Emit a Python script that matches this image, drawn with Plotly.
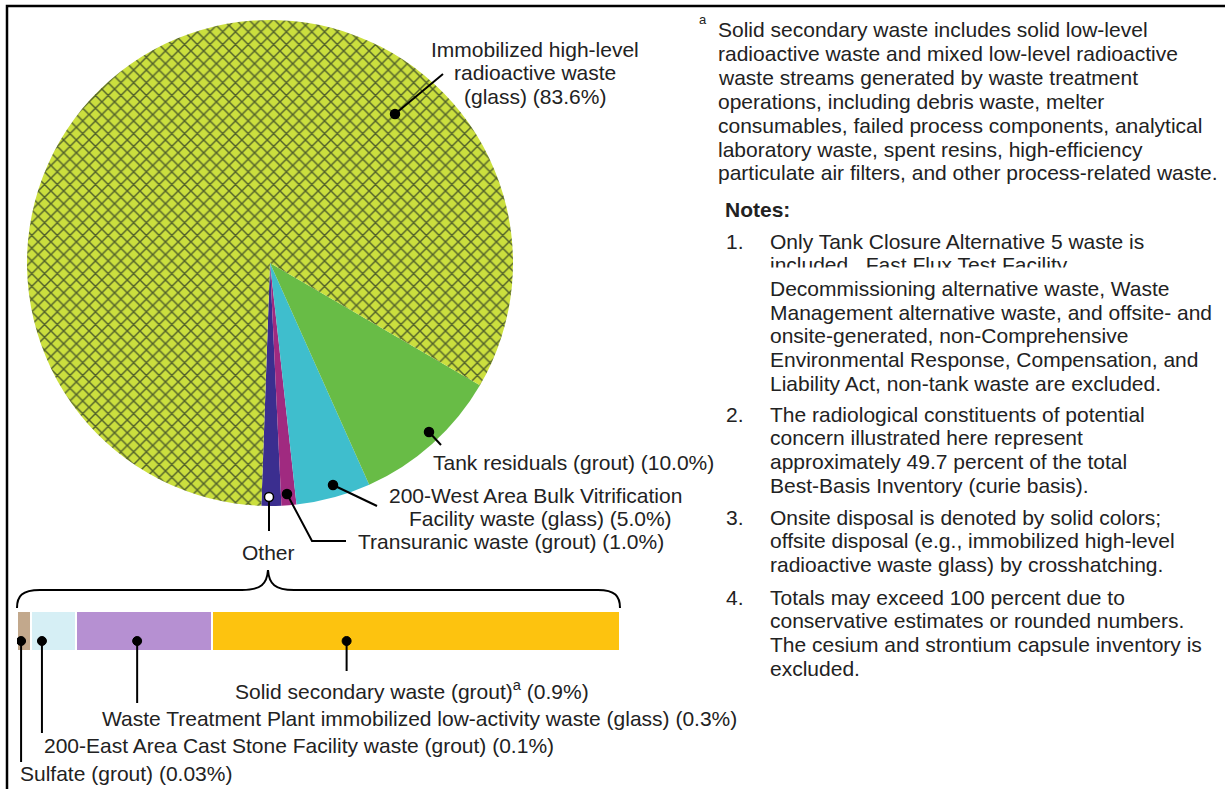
import plotly.graph_objects as go

W, H = 1225, 789

# ---------------- data ----------------
pie_names = [
    "Other",
    "Transuranic waste (grout)",
    "200-West Area Bulk Vitrification Facility waste (glass)",
    "Tank residuals (grout)",
    "Immobilized high-level radioactive waste (glass)",
]
main_values = [1.0, 5.0, 10.0, 83.6]          # TRU, 200-West, tank residuals, HLW glass
other_names = [
    "Sulfate (grout)",
    "200-East Area Cast Stone Facility waste (grout)",
    "Waste Treatment Plant immobilized low-activity waste (glass)",
    "Solid secondary waste (grout)",
]
other_values = [0.03, 0.1, 0.3, 0.9]
pie_values = [round(sum(other_values), 2)] + main_values

pie_colors = ["#3b2e8f", "#a02a80", "#3fbecd", "#68bc46", "#cbdf3e"]
other_colors = ["#c2a88c", "#d6eff5", "#b690d2", "#fdc30f"]

footnote_lines = [
    "Solid secondary waste includes solid low-level",
    "radioactive waste and mixed low-level radioactive",
    "waste streams generated by waste treatment",
    "operations, including debris waste, melter",
    "consumables, failed process components, analytical",
    "laboratory waste, spent resins, high-efficiency",
    "particulate air filters, and other process-related waste.",
]
notes = [
    ["Only Tank Closure Alternative 5 waste is",
     "included.  Fast Flux Test Facility",
     "Decommissioning alternative waste, Waste",
     "Management alternative waste, and offsite- and",
     "onsite-generated, non-Comprehensive",
     "Environmental Response, Compensation, and",
     "Liability Act, non-tank waste are excluded."],
    ["The radiological constituents of potential",
     "concern illustrated here represent",
     "approximately 49.7 percent of the total",
     "Best-Basis Inventory (curie basis)."],
    ["Onsite disposal is denoted by solid colors;",
     "offsite disposal (e.g., immobilized high-level",
     "radioactive waste glass) by crosshatching."],
    ["Totals may exceed 100 percent due to",
     "conservative estimates or rounded numbers.",
     "The cesium and strontium capsule inventory is",
     "excluded."],
]

# ---------------- layout helpers ----------------
FONT = "Liberation Sans, Arial, Helvetica, sans-serif"
FS = 21
TXT = "#222222"


def fx(x):
    return x / W


def fy(y):
    return 1 - y / H


fig = go.Figure()

# ---------------- pie ----------------
cx, cy, r = 270, 263, 243
fig.add_trace(go.Pie(
    labels=pie_names, values=pie_values, sort=False,
    direction="counterclockwise", rotation=177.3,
    textinfo="none", hoverinfo="label+value", showlegend=False,
    marker=dict(
        colors=pie_colors, line=dict(width=0),
        pattern=dict(shape=["", "", "", "", "x"],
                     fgcolor=["#000"] * 4 + ["#52622a"],
                     bgcolor=pie_colors,
                     size=9, solidity=0.3, fillmode="replace"),
    ),
    domain=dict(x=[fx(cx - r), fx(cx + r)], y=[fy(cy + r), fy(cy - r)]),
))

# ---------------- "Other" breakdown bar ----------------
bar_x0, bar_x1, bar_top, bar_bot = 17, 620, 611, 651
for name, v, c in zip(other_names, other_values, other_colors):
    fig.add_trace(go.Bar(
        x=[v], y=[0], orientation="h", width=1, name=name,
        marker=dict(color=c, line=dict(color="white", width=2)),
        showlegend=False, hoverinfo="name+x",
    ))

fig.update_layout(
    barmode="stack",
    width=W, height=H,
    margin=dict(l=0, r=0, t=0, b=0),
    paper_bgcolor="white", plot_bgcolor="rgba(0,0,0,0)",
    xaxis=dict(domain=[fx(bar_x0), fx(bar_x1)], range=[0, sum(other_values)],
               visible=False, fixedrange=True),
    yaxis=dict(domain=[fy(bar_bot), fy(bar_top)], range=[-0.5, 0.5],
               visible=False, fixedrange=True),
    font=dict(family=FONT, size=FS, color=TXT),
)

shapes = []
annos = []


def text(x, y, s, size=FS, anchor="left"):
    annos.append(dict(x=fx(x), y=fy(y), xref="paper", yref="paper", text=s,
                      showarrow=False, xanchor=anchor, yanchor="middle",
                      font=dict(family=FONT, size=size, color=TXT)))


def line(pts, width=2):
    path = "M " + " L ".join(f"{fx(a)},{fy(b)}" for a, b in pts)
    shapes.append(dict(type="path", path=path, xref="paper", yref="paper",
                       line=dict(color="black", width=width), layer="above"))


def dot(x, y, rad=4.5, fill="black"):
    shapes.append(dict(type="circle", xref="paper", yref="paper",
                       xsizemode="pixel", ysizemode="pixel",
                       xanchor=fx(x), yanchor=fy(y),
                       x0=-rad, x1=rad, y0=-rad, y1=rad,
                       fillcolor=fill, line=dict(color="black", width=1.5),
                       layer="above"))


# pie callouts
line([(395, 114), (443, 74)])
dot(395, 114)
for i, s in enumerate(["Immobilized high-level", "radioactive waste",
                       f"(glass) ({main_values[3]:.1f}%)"]):
    text(535, 49 + 24 * i, s, anchor="center")

line([(429, 432), (441, 445)])
dot(429, 432)
text(431, 462, f"Tank residuals (grout) ({main_values[2]:.1f}%)")

line([(333, 485), (377, 506)])
dot(333, 485)
text(535, 495, "200-West Area Bulk Vitrification", anchor="center")
text(540, 518, f"Facility waste (glass) ({main_values[1]:.1f}%)", anchor="center")

line([(287, 494), (312, 541), (346, 541)])
dot(287, 494)
text(356, 541, f"Transuranic waste (grout) ({main_values[0]:.1f}%)")

line([(269, 501), (269, 531)])
dot(269, 497, rad=4.5, fill="white")
text(268, 552, "Other", anchor="center")

# brace
bp = (f"M {fx(17)},{fy(608)} C {fx(17)},{fy(596)} {fx(22)},{fy(590)} {fx(40)},{fy(590)} "
      f"L {fx(242)},{fy(590)} C {fx(261)},{fy(590)} {fx(267)},{fy(584)} {fx(268)},{fy(570)} "
      f"C {fx(269)},{fy(584)} {fx(275)},{fy(590)} {fx(294)},{fy(590)} "
      f"L {fx(598)},{fy(590)} C {fx(615)},{fy(590)} {fx(620)},{fy(596)} {fx(620)},{fy(608)}")
shapes.append(dict(type="path", path=bp, xref="paper", yref="paper",
                   line=dict(color="black", width=2), layer="above"))

# bar callouts (dot x derived from the bar data)
dot_frac = [0.3, 0.25, 0.45, 0.33]
line_end = [762, 733, 703, 671]
label_pos = [(18, 773), (42, 745), (100, 718), (233, 690)]
cum = 0
dot_y = 641
for v, f, ye in zip(other_values, dot_frac, line_end):
    xv = cum + f * v
    cum += v
    shapes.append(dict(type="line", xref="x", yref="paper", x0=xv, x1=xv,
                       y0=fy(dot_y), y1=fy(ye), line=dict(color="black", width=2),
                       layer="above"))
    shapes.append(dict(type="circle", xref="x", yref="paper",
                       xsizemode="pixel", ysizemode="pixel", xanchor=xv, yanchor=fy(dot_y),
                       x0=-4.5, x1=4.5, y0=-4.5, y1=4.5, fillcolor="black",
                       line=dict(color="black", width=1), layer="above"))

bar_labels = [
    f"Sulfate (grout) ({other_values[0]:g}%)",
    f"200-East Area Cast Stone Facility waste (grout) ({other_values[1]:g}%)",
    f"Waste Treatment Plant immobilized low-activity waste (glass) ({other_values[2]:g}%)",
    f"Solid secondary waste (grout)<sup>a</sup> ({other_values[3]:g}%)",
]
for (x, y), s in zip(label_pos, bar_labels):
    text(x, y, s)

# right-hand footnote and notes
text(697, 20, "a", size=13)
for i, s in enumerate(footnote_lines):
    text(716, 30 + 23.8 * i, s)

text(723, 209, "<b>Notes:</b>")
starts = [241, 414, 517, 597]
for n, (y0, lines) in enumerate(zip(starts, notes), start=1):
    text(724, y0, f"{n}.")
    for j, s in enumerate(lines):
        text(768, y0 + 23.7 * j, s)

# scan artefact: lower part of one line is cut off (white strip drawn over the text)
annos.append(dict(x=fx(764), y=fy(267), xref="paper", yref="paper", text=" ",
                  showarrow=False, xanchor="left", yanchor="top",
                  width=370, height=10, bgcolor="white", borderpad=0,
                  font=dict(size=6)))

# frame (top and left edges)
line([(7, 789), (7, 6), (1225, 6)], width=2.5)

fig.update_layout(shapes=shapes, annotations=annos)
fig.write_html("out.html", config={"displayModeBar": False},
               post_script="document.body.style.margin='0px';")
